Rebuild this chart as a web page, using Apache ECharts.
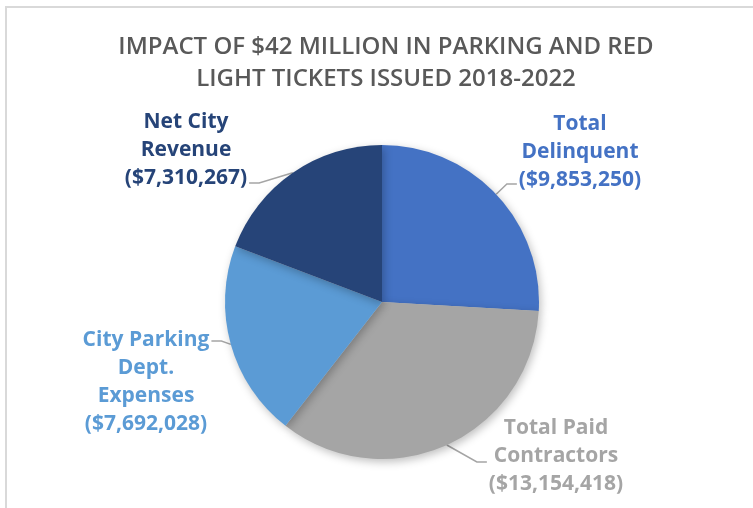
<!DOCTYPE html>
<html>
<head>
<meta charset="utf-8">
<script src="https://cdn.jsdelivr.net/npm/echarts@6/dist/echarts.min.js"></script>
<style>
  html, body { margin: 0; padding: 0; background: #fff; }
  #chart { width: 753px; height: 508px; }
</style>
</head>
<body>
<div id="chart"></div>
<script>
  // slices, clockwise from 12 o'clock
  var names  = ['Total\nDelinquent', 'Total Paid\nContractors', 'City Parking\nDept.\nExpenses', 'Net City\nRevenue'];
  var values = [9853250, 13154418, 7692028, 7310267];
  var colors = ['#4472C4', '#A5A5A5', '#5B9BD5', '#264478'];

  // where each label block sits (centre of text)
  var labelPos = [[580, 152], [556, 456], [146, 382], [186, 150]];
  // which side the leader line leaves from (-1 left, 1 right) and its y offset from the block centre
  var lineSide = [-1, -1, 1, 1];
  var lineDy   = [32, 6, -41, 33];

  var title = 'IMPACT OF $42 MILLION IN PARKING AND RED\nLIGHT TICKETS ISSUED 2018-2022';

  var chart = echarts.init(document.getElementById('chart'));

  var data = names.map(function(n, i) {
    return {
      name: n, value: values[i],
      itemStyle: { color: colors[i] },
      label: { color: colors[i] }
    };
  });

  chart.setOption({
    animation: false,
    title: {
      text: title,
      left: 381, top: 26, textAlign: 'center',
      textStyle: {
        fontFamily: 'Open Sans', fontWeight: 600, fontSize: 24,
        color: '#595959', lineHeight: 32
      }
    },
    graphic: [{
      type: 'rect', silent: true,
      shape: { x: 6, y: 7, width: 800, height: 600 },
      style: { fill: null, stroke: '#D9D9D9', lineWidth: 2 }
    }],
    series: [{
      type: 'pie',
      center: [382, 302],
      radius: 157,
      startAngle: 90,
      clockwise: true,
      data: data,
      itemStyle: {
        shadowBlur: 8, shadowOffsetX: 2, shadowOffsetY: 3,
        shadowColor: 'rgba(0,0,0,0.25)'
      },
      label: {
        show: true,
        fontFamily: 'Open Sans', fontWeight: 'bold', fontSize: 21, lineHeight: 28,
        formatter: function(p) {
          return p.name + '\n($' + p.value.toLocaleString('en-US') + ')';
        }
      },
      labelLine: {
        show: true, length: 10, length2: 10,
        lineStyle: { color: '#A5A5A5', width: 1.5 }
      },
      labelLayout: function(p) {
        var i = p.dataIndex;
        var xy = labelPos[i];
        var out = { x: xy[0], y: xy[1], align: 'center', verticalAlign: 'middle' };
        if (p.labelLinePoints && p.labelLinePoints.length) {
          var anchor = p.labelLinePoints[0];
          var ex = xy[0] + lineSide[i] * (p.labelRect.width / 2 + 2);
          var ey = xy[1] + lineDy[i];
          var mx = ex + lineSide[i] * 10;
          out.labelLinePoints = [anchor, [mx, ey], [ex, ey]];
        }
        return out;
      }
    }]
  });
</script>
</body>
</html>
